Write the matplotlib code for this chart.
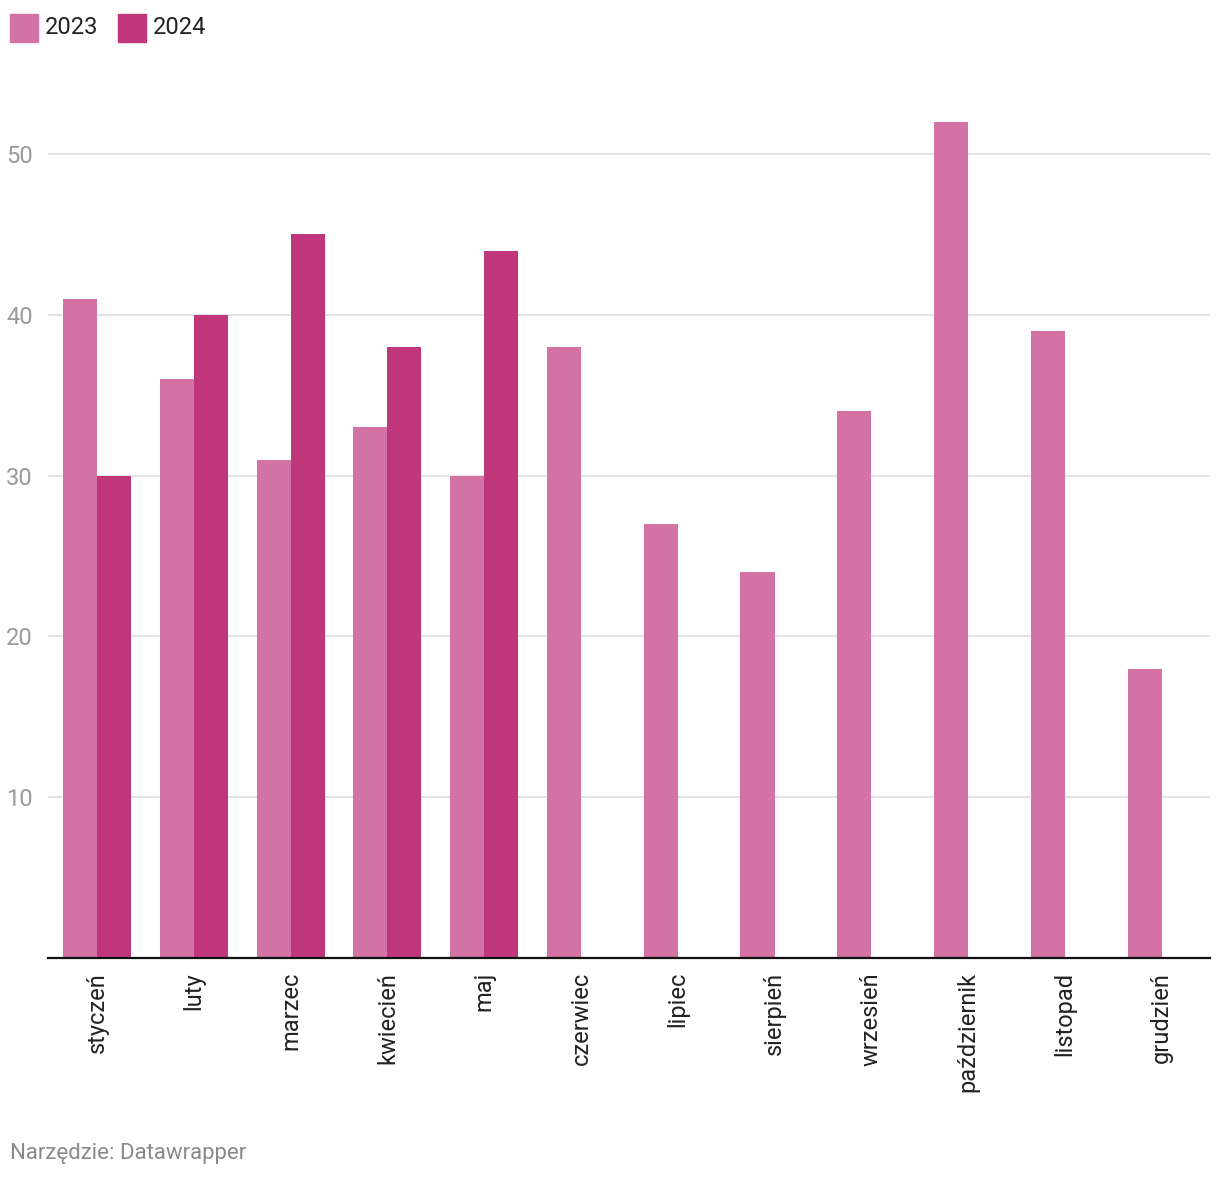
import matplotlib
matplotlib.use("Agg")
import matplotlib.pyplot as plt
import numpy as np
from matplotlib.patches import Rectangle

plt.rcParams['font.family'] = ['Roboto', 'DejaVu Sans']

months = ["styczeń", "luty", "marzec", "kwiecień", "maj", "czerwiec", "lipiec",
          "sierpień", "wrzesień", "październik", "listopad", "grudzień"]
v2023 = [41, 36, 31, 33, 30, 38, 27, 24, 34, 52, 39, 18]
v2024 = [30, 40, 45, 38, 44]
series_names = ["2023", "2024"]
colors = ["#d373a5", "#bf367b"]
yticks = [10, 20, 30, 40, 50]

fig = plt.figure(figsize=(12.2, 11.78), dpi=100)
ax = fig.add_axes([48/1220, 1 - 958/1178, (1210-48)/1220, (958-100)/1178])

x = np.arange(len(months))
w = 0.352
ax.bar(x[:len(v2023)] - w/2, v2023, width=w, color=colors[0], align='center', zorder=2)
ax.bar(x[:len(v2024)] + w/2, v2024, width=w, color=colors[1], align='center', zorder=2)

ax.set_xlim(-0.507, 11.50)
ax.set_ylim(0, 53.36)
ax.set_yticks(yticks)
ax.set_yticklabels([str(t) for t in yticks], fontsize=17, color="#9a9a9a")
ax.tick_params(axis='y', length=0, pad=11)
ax.yaxis.grid(True, color="#e2e2e2", linewidth=1.3, zorder=0)
ax.set_axisbelow(True)

ax.set_xticks(x)
ax.set_xticklabels(months, rotation=90, fontsize=17, color="#222222", va='top', ha='center')
ax.tick_params(axis='x', length=0, pad=10)

for s in ['top', 'right', 'left']:
    ax.spines[s].set_visible(False)
ax.spines['bottom'].set_color('#111111')
ax.spines['bottom'].set_linewidth(1.6)
ax.spines['bottom'].set_zorder(3)

# legend
lx = [10, 118]
for i, name in enumerate(series_names):
    fig.patches.append(Rectangle((lx[i]/1220, 1 - 42/1178), 28/1220, 28/1178,
                                 transform=fig.transFigure, color=colors[i]))
    fig.text((lx[i] + 35)/1220, 1 - 27/1178, name, fontsize=17, color="#222222",
             va='center', ha='left')

fig.text(10/1220, 1 - 1153/1178, "Narzędzie: Datawrapper", fontsize=16,
         color="#8a8a8a", va='center', ha='left')

fig.savefig("out.png", dpi=100, facecolor='white')
